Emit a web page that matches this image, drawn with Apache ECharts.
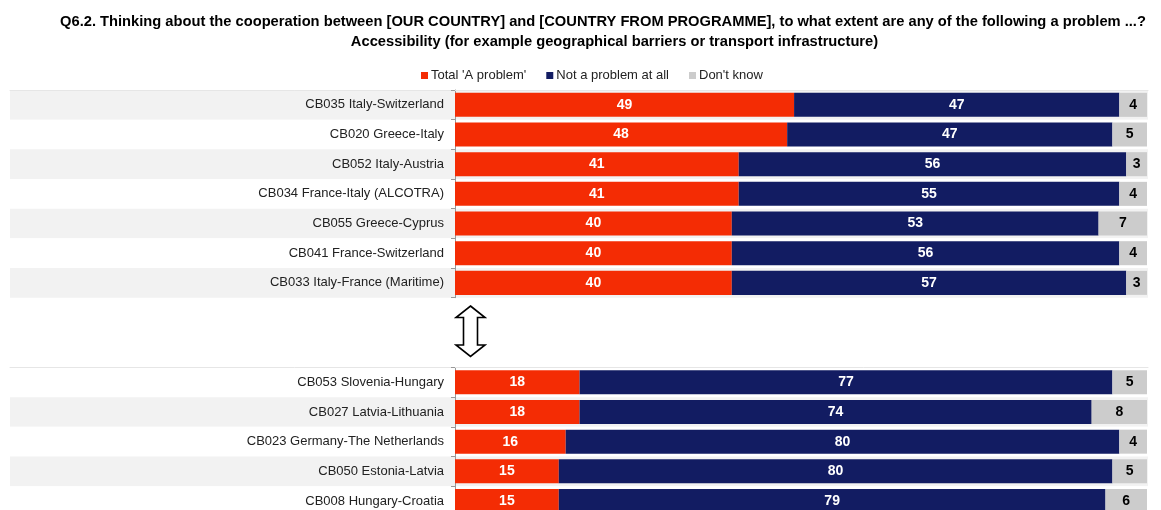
<!DOCTYPE html>
<html>
<head>
<meta charset="utf-8">
<script src="https://cdn.jsdelivr.net/npm/echarts@6/dist/echarts.min.js"></script>
<style>html,body{margin:0;padding:0;background:#fff}#c{width:1161px;height:510px}</style>
</head>
<body>
<div id="c"></div>
<script>
const titleLine1 = "Q6.2. Thinking about the cooperation between [OUR COUNTRY] and [COUNTRY FROM PROGRAMME], to what extent are any of the following a problem ...?";
const titleLine2 = "Accessibility (for example geographical barriers or transport infrastructure)";
const seriesNames = ["Total 'A problem'", "Not a problem at all", "Don't know"];

const topCategories = ["CB035 Italy-Switzerland", "CB020 Greece-Italy", "CB052 Italy-Austria", "CB034 France-Italy (ALCOTRA)", "CB055 Greece-Cyprus", "CB041 France-Switzerland", "CB033 Italy-France (Maritime)"];
const topProblem = [49, 48, 41, 41, 40, 40, 40];
const topNotProblem = [47, 47, 56, 55, 53, 56, 57];
const topDontKnow = [4, 5, 3, 4, 7, 4, 3];

const bottomCategories = ["CB053 Slovenia-Hungary", "CB027 Latvia-Lithuania", "CB023 Germany-The Netherlands", "CB050 Estonia-Latvia", "CB008 Hungary-Croatia"];
const bottomProblem = [18, 18, 16, 15, 15];
const bottomNotProblem = [77, 74, 80, 80, 79];
const bottomDontKnow = [5, 8, 4, 5, 6];

const colors = ['#F42C04', '#121C62', '#CCCCCC'];
const baseFont = "'Liberation Sans', Arial, sans-serif";

const chart = echarts.init(document.getElementById('c'), null, {renderer: 'canvas'});

function makeSeries(idx, values, gi) {
  return {
    name: seriesNames[idx],
    type: 'bar',
    stack: 'g' + gi,
    xAxisIndex: gi,
    yAxisIndex: gi,
    data: values,
    barCategoryGap: '19%',
    itemStyle: {color: colors[idx]},
    label: {
      show: true,
      position: 'inside',
      color: idx === 2 ? '#000' : '#fff',
      fontFamily: baseFont,
      fontWeight: 'bold',
      fontSize: 14
    },
    animation: false
  };
}

// background band axes (grid 0 and 2)
function bgXAxis(gi) {
  return {
    type: 'value', gridIndex: gi, min: 0, max: 1, position: 'top',
    axisLine: {show: true, onZero: false, lineStyle: {color: '#e6e6e6', width: 1}},
    axisTick: {show: false}, axisLabel: {show: false}, splitLine: {show: false}
  };
}
function bgYAxis(gi, cats, areaColors) {
  return {
    type: 'category', gridIndex: gi, data: cats, inverse: true,
    axisLine: {show: false}, axisTick: {show: false}, axisLabel: {show: false},
    splitArea: {show: true, areaStyle: {color: areaColors}},
    splitLine: {show: false}
  };
}
// main axes (grid 1 and 3)
function mainXAxis(gi) {
  return {
    type: 'value', gridIndex: gi, min: 0, max: 100, show: false
  };
}
function mainYAxis(gi, cats) {
  return {
    type: 'category', gridIndex: gi, data: cats, inverse: true,
    axisLine: {show: true, lineStyle: {color: '#999', width: 1}},
    axisTick: {show: true, length: 4, lineStyle: {color: '#999'}},
    axisLabel: {color: '#222', fontSize: 13, fontFamily: baseFont, margin: 11},
    splitArea: {show: false},
    splitLine: {show: false}
  };
}

const gridBase = {containLabel: false, outerBoundsMode: 'none'};

const option = {
  backgroundColor: '#fff',
  animation: false,
  title: [
    {text: titleLine1, left: 598, top: 9, textAlign: 'center',
     textStyle: {fontFamily: baseFont, fontSize: 14.7, fontWeight: 'bold', color: '#000'}},
    {text: titleLine2, left: 609.5, top: 29, textAlign: 'center',
     textStyle: {fontFamily: baseFont, fontSize: 14.7, fontWeight: 'bold', color: '#000'}}
  ],
  legend: {
    data: seriesNames,
    left: 416, top: 64,
    icon: 'rect', itemWidth: 7, itemHeight: 7, itemGap: 20,
    textStyle: {fontFamily: baseFont, fontSize: 13, color: '#222', padding: [0, 0, 0, -2]}
  },
  grid: [
    Object.assign({left: 10, right: 13, top: 90, height: 207.7}, gridBase),
    Object.assign({left: 455, right: 14, top: 90, height: 207.7}, gridBase),
    Object.assign({left: 10, right: 13, top: 367.5, height: 148.3}, gridBase),
    Object.assign({left: 455, right: 14, top: 367.5, height: 148.3}, gridBase)
  ],
  xAxis: [bgXAxis(0), mainXAxis(1), bgXAxis(2), mainXAxis(3)],
  yAxis: [
    bgYAxis(0, topCategories, ['#f2f2f2', '#ffffff']),
    mainYAxis(1, topCategories),
    bgYAxis(2, bottomCategories, ['#ffffff', '#f2f2f2']),
    mainYAxis(3, bottomCategories)
  ],
  series: [
    makeSeries(0, topProblem, 1), makeSeries(1, topNotProblem, 1), makeSeries(2, topDontKnow, 1),
    makeSeries(0, bottomProblem, 3), makeSeries(1, bottomNotProblem, 3), makeSeries(2, bottomDontKnow, 3)
  ],
  graphic: [{
    type: 'polygon',
    shape: {points: [[470.5, 306], [485, 317.5], [477.5, 317.5], [477.5, 345], [485, 345], [470.5, 356.5], [456, 345], [463.5, 345], [463.5, 317.5], [456, 317.5]]},
    style: {fill: '#fff', stroke: '#000', lineWidth: 1.6}
  }]
};
chart.setOption(option);
</script>
</body>
</html>
